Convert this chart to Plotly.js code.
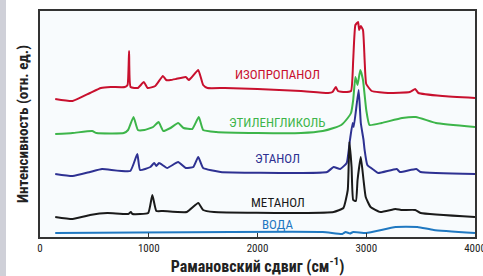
<!DOCTYPE html>
<html>
<head>
<meta charset="utf-8">
<script src="https://cdn.plot.ly/plotly-3.0.1.min.js"></script>
<style>html,body{margin:0;padding:0;background:#fff;}#chart{width:483px;height:276px;}</style>
</head>
<body>
<div id="chart"></div>
<script>
// Isopropanol
const isoX = [140,300,460,560,650,780,805,819,833,900,955,990,1060,1130,1160,1200,1250,1340,1370,1455,1500,1540,1700,2000,2400,2650,2690,2720,2740,2800,2860,2880,2900,2925,2935,2950,2970,2985,3000,3050,3200,3400,3450,3480,3700,4000];
const isoY = [138,136,144,149,150,150,152,186,150,149,155,149,151,161,157,157,158,160,157,167,152,149,149,148,146,144,145,150,146,145,146,177,212,215,207,211,207,177,153,146,144,145,148,144,141,139];
// Ethylene glycol
const egX = [140,300,480,520,770,810,860,900,960,1040,1090,1134,1200,1270,1320,1400,1460,1500,1620,2000,2400,2600,2700,2770,2830,2860,2880,2900,2920,2945,2970,3000,3030,3140,3330,3456,3640,4000];
const egY = [103,104,106,104,104,107,120,107,107,110,115,106,109,114,109,108,120,107,105,104,104,106,109,112,119,124,137,160,152,167,157,127,112,114,119,120,114,110];
// Ethanol
const etX = [140,300,460,570,830,895,920,1015,1050,1070,1095,1170,1270,1340,1410,1455,1500,1660,2400,2640,2700,2760,2820,2850,2875,2885,2930,2950,2975,2985,3010,3070,3110,3280,3310,3460,3500,4000];
const etY = [63,61,65,68,66,83,67,70,74,71,74,69,75,69,70,80,69,65,64,65,70,68,74,97,114,110,147,114,97,87,72,67,64,68,65,68,65,63];
// Methanol
const meX = [140,300,460,620,810,835,850,995,1033,1070,1130,1350,1455,1500,1600,2400,2700,2790,2830,2845,2865,2880,2905,2920,2950,2975,2995,3040,3130,3270,3320,3450,3500,4000];
const meY = [20,18,22,24,23,25,23,24,42,26,26,25,34,27,25,24,25,29,47,95,70,37,36,57,80,57,40,30,25,28,27,27,24,20];
// Water
const waX = [140,2600,2780,2810,2850,2880,3000,3270,3470,3620,4000];
const waY = [4,5,3,5,3.5,5,4,10,10,7,4];

const names = ['ИЗОПРОПАНОЛ','ЭТИЛЕНГЛИКОЛЬ','ЭТАНОЛ','МЕТАНОЛ','ВОДА'];
const colors = ['#c8102e','#3db54a','#2e3192','#1a1a1a','#1f78c1'];
const labelX = 2185;
const labelY = [163,115,79,35,13];
const xTicks = [0,1000,2000,3000,4000];

const font = 'Liberation Sans Narrow, Roboto Condensed, Arial Narrow, sans-serif';
const series = [[isoX,isoY],[egX,egY],[etX,etY],[meX,meY],[waX,waY]];
const data = series.map((s,i)=>({x:s[0],y:s[1],type:'scatter',mode:'lines',line:{color:colors[i],width:2,shape:'spline',smoothing:0.4},hoverinfo:'skip',showlegend:false}));

const layout = {
  width:483,height:276,
  margin:{l:40,r:8,t:11,b:39},
  paper_bgcolor:'#ffffff',plot_bgcolor:'#f8fbfd',
  font:{family:font,color:'#222'},
  xaxis:{range:[0,4000],tickvals:xTicks,ticktext:xTicks.map(String),ticks:'inside',ticklen:4,tickcolor:'#333',
    ticklabeloverflow:'allow',automargin:false,
    showline:true,mirror:true,linecolor:'#333',linewidth:2,showgrid:false,zeroline:false,
    tickfont:{size:11,color:'#222',family:font},
    title:{text:'<b>Рамановский сдвиг (см<sup>-1</sup>)</b>',font:{size:16,color:'#222',family:font},standoff:5}},
  yaxis:{range:[0,226],showticklabels:false,ticks:'',showline:true,mirror:true,linecolor:'#333',linewidth:2,showgrid:false,zeroline:false,
    title:{text:'<b>Интенсивность (отн. ед.)</b>',font:{size:15,color:'#222',family:font},standoff:6}},
  annotations: names.map((n,i)=>({x:labelX,y:labelY[i],xref:'x',yref:'y',text:n,showarrow:false,xanchor:'center',yanchor:'middle',font:{size:13,color:colors[i],family:font}})),
  shapes:[{type:'rect',xref:'paper',yref:'paper',x0:-40/435,x1:-34/435,y0:-1,y1:2,fillcolor:'#cfd0d8',line:{width:0},layer:'below'}]
};
Plotly.newPlot('chart',data,layout,{staticPlot:true,displayModeBar:false});
</script>
</body>
</html>
